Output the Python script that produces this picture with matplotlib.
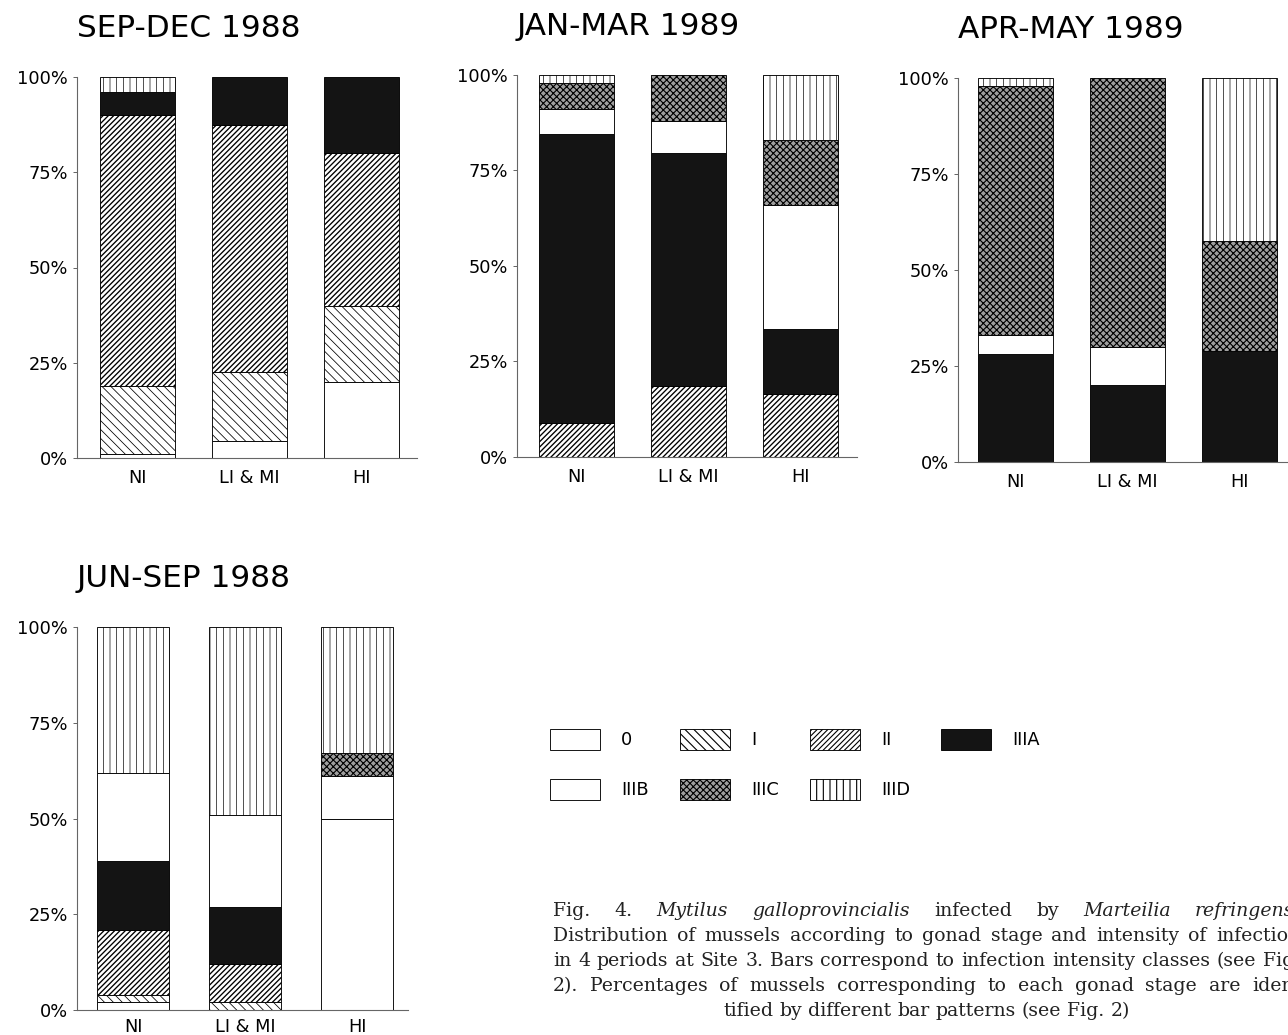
import numpy as np
import matplotlib
matplotlib.use("Agg")
import matplotlib.pyplot as plt
import matplotlib.patches as mpatches

W, H, DPI = 1288, 1035, 80

# infection intensity classes (bars) and gonad stages (stacked segments)
INTENSITY = ["NI", "LI & MI", "HI"]
STAGES = ["0", "I", "II", "IIIA", "IIIB", "IIIC", "IIID"]

# % of mussels per gonad stage, one row per stage, columns NI / LI & MI / HI
SEP_DEC_1988 = [
    [1, 4.5, 20],
    [18, 18, 20],
    [71, 65, 40],
    [6, 12.5, 20],
    [0, 0, 0],
    [0, 0, 0],
    [4, 0, 0],
]
JAN_MAR_1989 = [
    [0, 0, 0],
    [0, 0, 0],
    [9, 18.5, 16.5],
    [75.5, 61, 17],
    [6.5, 8.5, 32.5],
    [7, 12, 17],
    [2, 0, 17],
]
APR_MAY_1989 = [
    [0, 0, 0],
    [0, 0, 0],
    [0, 0, 0],
    [28, 20, 29],
    [5, 10, 0],
    [65, 70, 28.5],
    [2, 0, 42.5],
]
JUN_SEP_1988 = [
    [2, 0, 50],
    [2, 2, 0],
    [17, 10, 0],
    [18, 15, 0],
    [23, 24, 11],
    [0, 0, 6],
    [38, 49, 33],
]

YTICKS = [0, 25, 50, 75, 100]
YTICK_LABELS = ["0%", "25%", "50%", "75%", "100%"]

# fill / hatch for each gonad stage
STAGE_STYLE = {
    "0":    dict(fc="white", hatch="", hlw=0.8),
    "I":    dict(fc="white", hatch="\\\\\\", hlw=0.7),
    "II":   dict(fc="white", hatch="/////", hlw=1.2),
    "IIIA": dict(fc="#141414", hatch="", hlw=0.8),
    "IIIB": dict(fc="white", hatch="", hlw=0.8),
    "IIIC": dict(fc="#a0a0a0", hatch="xxxx", hlw=1.0),
    "IIID": dict(fc="white", hatch="||", hlw=0.6),
}

# title, data, axes box in pixels (left, top, bottom, width), left x limit,
# bar width, x label pad
PANELS = [
    ("SEP-DEC 1988", SEP_DEC_1988, (77, 77, 458, 340), -0.54, 0.67, 10),
    ("JAN-MAR 1989", JAN_MAR_1989, (517, 75, 457, 340), -0.53, 0.67, 10),
    ("APR-MAY 1989", APR_MAY_1989, (958, 78, 462, 340), -0.51, 0.67, 10),
    ("JUN-SEP 1988", JUN_SEP_1988, (77, 627, 1010, 331), -0.50, 0.64, 7),
]

plt.rcParams["font.family"] = "DejaVu Sans"
fig = plt.figure(figsize=(W / DPI, H / DPI), dpi=DPI)


def draw_panel(title, values, box, xmin, bar_w, xpad):
    x, top, bottom, w = box
    ax = fig.add_axes([x / W, 1 - bottom / H, w / W, (bottom - top) / H])
    pos = np.arange(len(INTENSITY))
    base = np.zeros(len(INTENSITY))
    for stage, row in zip(STAGES, values):
        row = np.asarray(row, dtype=float)
        st = STAGE_STYLE[stage]
        bars = ax.bar(pos, row, bar_w, bottom=base, color=st["fc"],
                      edgecolor="black", linewidth=0.8, hatch=st["hatch"])
        for b, v in zip(bars, row):
            if v == 0:
                b.set_visible(False)
            if hasattr(b, "set_hatch_linewidth"):
                b.set_hatch_linewidth(st["hlw"])
        base += row

    ax.set_xlim(xmin, xmin + w / 112.0)
    ax.set_ylim(0, 100)
    ax.set_xticks(pos, INTENSITY)
    ax.set_yticks(YTICKS, YTICK_LABELS)
    ax.tick_params(axis="y", length=4, width=0.8, color="#555555", pad=4,
                   labelsize=16)
    ax.tick_params(axis="x", length=0, pad=xpad, labelsize=16)
    for side in ("top", "right"):
        ax.spines[side].set_visible(False)
    for side in ("left", "bottom"):
        ax.spines[side].set_color("#666666")
        ax.spines[side].set_linewidth(1.0)
    ax.set_title(title, loc="left", pad=36, fontsize=28)
    return ax


for title, values, box, xmin, bar_w, xpad in PANELS:
    draw_panel(title, values, box, xmin, bar_w, xpad)

# legend: row-major order 0 I II IIIA / IIIB IIIC IIID
handles = {}
for stage in STAGES:
    st = STAGE_STYLE[stage]
    p = mpatches.Patch(facecolor=st["fc"], edgecolor="black", linewidth=0.8,
                       hatch=st["hatch"], label=stage)
    if hasattr(p, "set_hatch_linewidth"):
        p.set_hatch_linewidth(st["hlw"])
    handles[stage] = p
order = ["0", "IIIB", "I", "IIIC", "II", "IIID", "IIIA"]
fig.legend([handles[s] for s in order], order, loc="upper left",
           bbox_to_anchor=(550 / W, 1 - 729 / H), ncol=4, frameon=False,
           fontsize=16, borderpad=0, borderaxespad=0,
           handlelength=2.8, handleheight=1.45, handletextpad=1.2,
           columnspacing=1.75, labelspacing=1.6)

# caption, justified between two x positions
CAPTION = [
    [("Fig.", 0), ("4.", 0), ("Mytilus", 1), ("galloprovincialis", 1),
     ("infected", 0), ("by", 0), ("Marteilia", 1), ("refringens.", 1)],
    [(w, 0) for w in "Distribution of mussels according to gonad stage and "
     "intensity of infection".split()],
    [(w, 0) for w in "in 4 periods at Site 3. Bars correspond to infection "
     "intensity classes (see Fig.".split()],
    [(w, 0) for w in "2). Percentages of mussels corresponding to each gonad "
     "stage are iden-".split()],
    [(w, 0) for w in "tified by different bar patterns (see Fig. 2)".split()],
]
CAP_LEFT, CAP_RIGHT = 553, 1300
CAP_BASE, CAP_STEP = 916, 25
CAP_SIZE = 17

renderer = fig.canvas.get_renderer()
for i, words in enumerate(CAPTION):
    y = 1 - (CAP_BASE + i * CAP_STEP) / H
    texts = [fig.text(0, y, w, fontsize=CAP_SIZE, family="DejaVu Serif",
                      style="italic" if it else "normal", va="baseline",
                      color="#222222")
             for w, it in words]
    widths = [t.get_window_extent(renderer).width for t in texts]
    space = CAP_SIZE * DPI / 72 * 0.318
    if i == len(CAPTION) - 1:
        gap = space
        total = sum(widths) + gap * (len(words) - 1)
        xpos = (CAP_LEFT + CAP_RIGHT) / 2 - total / 2
    else:
        gap = max((CAP_RIGHT - CAP_LEFT - sum(widths)) / (len(words) - 1),
                  space * 0.7)
        xpos = CAP_LEFT
    for t, wd in zip(texts, widths):
        t.set_x(xpos / W)
        xpos += wd + gap

fig.savefig("out.png", dpi=DPI)
